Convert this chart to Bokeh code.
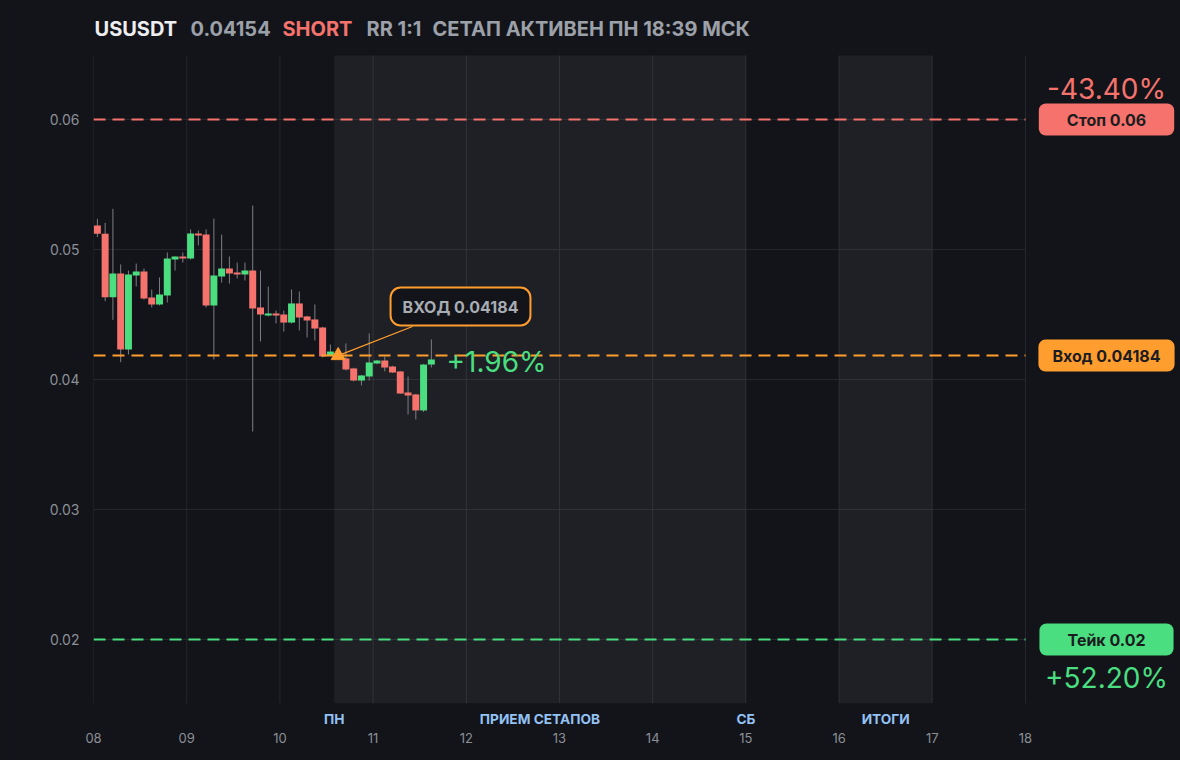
import numpy as np
from bokeh.plotting import figure
from bokeh.models import (Label, FixedTicker, Range1d, ColumnDataSource, GlobalInlineStyleSheet,
                          LinearAxis)
from bokeh.embed import file_html
from bokeh.resources import INLINE

# ---------------- data ----------------
symbol = "USUSDT"
last_price_text = "0.04154"
side_text = "SHORT"
rr_text = "RR 1:1"
status_text = "СЕТАП АКТИВЕН ПН 18:39 МСК"

start_day = 8.0
candle_hours = 2

opens = [0.05185, 0.05121, 0.04633, 0.04815, 0.04231, 0.04800, 0.04831, 0.04631, 0.04577, 0.04646,
         0.04923, 0.04946, 0.04931, 0.05123, 0.05115, 0.04569, 0.04792, 0.04854, 0.04823, 0.04808,
         0.04838, 0.04554, 0.04492, 0.04508, 0.04500, 0.04438, 0.04585, 0.04485, 0.04462, 0.04400,
         0.04185, 0.04200, 0.04162, 0.04085, 0.03992, 0.04023, 0.04123, 0.04146, 0.04100, 0.04062,
         0.03900, 0.03885, 0.03762, 0.04115]
highs = [0.05236, 0.05205, 0.05313, 0.04885, 0.04838, 0.04892, 0.04854, 0.04692, 0.04785, 0.04977,
         0.04946, 0.04977, 0.05154, 0.05146, 0.05154, 0.05238, 0.05115, 0.04946, 0.04900, 0.04900,
         0.05338, 0.04838, 0.04715, 0.04531, 0.04531, 0.04692, 0.04677, 0.04490, 0.04577, 0.04405,
         0.04269, 0.04240, 0.04277, 0.04090, 0.04035, 0.04354, 0.04150, 0.04177, 0.04105, 0.04066,
         0.04023, 0.03890, 0.04120, 0.04308]
lows = [0.05095, 0.04602, 0.04459, 0.04133, 0.04192, 0.04715, 0.04615, 0.04554, 0.04570, 0.04592,
        0.04838, 0.04900, 0.04923, 0.05031, 0.04554, 0.04154, 0.04746, 0.04738, 0.04777, 0.04762,
        0.03600, 0.04292, 0.04485, 0.04431, 0.04369, 0.04430, 0.04377, 0.04323, 0.04300, 0.04170,
        0.04180, 0.04160, 0.04070, 0.03985, 0.03954, 0.03992, 0.04118, 0.04062, 0.04050, 0.03890,
        0.03731, 0.03692, 0.03750, 0.04092]
closes = [0.05121, 0.04633, 0.04815, 0.04231, 0.04808, 0.04831, 0.04623, 0.04577, 0.04654, 0.04931,
          0.04946, 0.04931, 0.05123, 0.05108, 0.04569, 0.04800, 0.04854, 0.04815, 0.04808, 0.04838,
          0.04546, 0.04500, 0.04508, 0.04492, 0.04438, 0.04585, 0.04477, 0.04454, 0.04392, 0.04177,
          0.04215, 0.04185, 0.04077, 0.03992, 0.04031, 0.04131, 0.04146, 0.04092, 0.04054, 0.03892,
          0.03877, 0.03762, 0.04115, 0.04154]

entry_index = 31
entry_price = 0.04184
stop_price = 0.06
take_price = 0.02
entry_text = "ВХОД 0.04184"
stop_box_text = "Стоп 0.06"
entry_box_text = "Вход 0.04184"
take_box_text = "Тейк 0.02"
stop_pct = "-43.40%"
take_pct = "+52.20%"
pnl_pct = "+1.96%"

x_ticks = [8, 9, 10, 11, 12, 13, 14, 15, 16, 17, 18]
x_tick_labels = ["08", "09", "10", "11", "12", "13", "14", "15", "16", "17", "18"]
y_ticks = [0.02, 0.03, 0.04, 0.05, 0.06]
y_tick_labels = ["0.02", "0.03", "0.04", "0.05", "0.06"]

session_starts = [10.583, 16.0]
session_ends = [15.0, 17.0]
session_label_pos = [10.583, 12.79, 15.0, 16.5]
session_labels = ["ПН", "ПРИЕМ СЕТАПОВ", "СБ", "ИТОГИ"]

# ---------------- style ----------------
BG = "#131419"
RED = "#f6736d"
GREEN = "#4ade80"
ORANGE = "#ff9d2e"
GRID = "#26272c"
AXIS_TXT = "#8b8f97"
TITLE_GREY = "#9ca0a8"
BLUE = "#93c2f5"
WICK = "#7c7e84"
FONT = "Inter"

# chart area (page px): x 93..1025 <-> days 8..18 ; y 55..703 <-> price
CH_L, CH_R, CH_T, CH_B = 93, 1025, 55, 703
PX_PER_DAY = (CH_R - CH_L) / 10.0
PX_PER_PRICE = 13000.0
W, H = 1180, 760


def dx(px):
    return 8.0 + (px - CH_L) / PX_PER_DAY


def dy(py):
    return 0.06 - (py - 119) / PX_PER_PRICE


XA, XB = 8.0, 18.0
YA, YB = dy(CH_B), dy(CH_T)

p = figure(width=W, height=H, frame_width=W - CH_L, frame_height=CH_B,
           x_range=Range1d(dx(CH_L), dx(W)), y_range=Range1d(dy(CH_B), dy(0)),
           output_backend="svg", toolbar_location=None,
           min_border_left=CH_L, min_border_right=0, min_border_top=0, min_border_bottom=H - CH_B,
           background_fill_color=BG, border_fill_color=BG, outline_line_color=None)
p.stylesheets = [GlobalInlineStyleSheet(css="html, body { background: #131419; margin: 0; }")]
p.xgrid.visible = False
p.ygrid.visible = False

# session axis (closest to chart) and day axis
p.xaxis.ticker = FixedTicker(ticks=session_label_pos)
p.xaxis.major_label_overrides = {t: l for t, l in zip(session_label_pos, session_labels)}
day_axis = LinearAxis(ticker=FixedTicker(ticks=x_ticks),
                      major_label_overrides={t: l for t, l in zip(x_ticks, x_tick_labels)})
p.add_layout(day_axis, "below")
p.yaxis.ticker = FixedTicker(ticks=y_ticks)
p.yaxis.major_label_overrides = {t: l for t, l in zip(y_ticks, y_tick_labels)}
for ax in (p.xaxis[0], day_axis, p.yaxis[0]):
    ax.axis_line_color = None
    ax.major_tick_line_color = None
    ax.minor_tick_line_color = None
    ax.major_label_text_color = AXIS_TXT
    ax.major_label_text_font = FONT
    ax.major_label_text_font_size = "13px"
p.yaxis.major_label_text_font_size = "14px"
p.yaxis.major_label_standoff = 8
p.xaxis[0].major_label_text_color = BLUE
p.xaxis[0].major_label_text_font_style = "bold"
p.xaxis[0].major_label_text_font_size = "13.7px"
p.xaxis[0].major_label_standoff = 1
day_axis.major_label_standoff = -3

# grid lines (chart area only)
p.segment(x0=x_ticks, y0=YA, x1=x_ticks, y1=YB, line_color=GRID, line_width=1)
p.segment(x0=XA, y0=y_ticks, x1=XB, y1=y_ticks, line_color=GRID, line_width=1)

# session shading
p.quad(left=session_starts, right=session_ends, bottom=YA, top=YB,
       fill_color="#ffffff", fill_alpha=0.055, line_color=None)

# candles
n = len(opens)
times = start_day + (np.arange(n) + 0.5) * candle_hours / 24.0
o = np.array(opens); c = np.array(closes)
src = ColumnDataSource(dict(
    t=times, o=o, h=highs, l=lows, c=c,
    top=np.maximum(o, c), bot=np.minimum(o, c),
    col=[GREEN if cc >= oo else RED for oo, cc in zip(o, c)]))
p.segment(x0="t", y0="l", x1="t", y1="h", source=src, line_color=WICK, line_width=1)
p.vbar(x="t", width=candle_hours / 24.0 * 0.9, top="top", bottom="bot", source=src,
       fill_color="col", line_color=None)

# level lines
levels = [stop_price, entry_price, take_price]
level_colors = [RED, ORANGE, GREEN]
p.segment(x0=XA, y0=levels, x1=XB, y1=levels, line_color=level_colors, line_width=2,
          line_dash="12 7")

# entry marker and callout
ex = times[entry_index]
call_x, call_y = dx(412), dy(326)
p.segment(x0=[ex], y0=[entry_price], x1=[call_x], y1=[call_y], line_color=ORANGE, line_width=1.3)
p.scatter(x=[ex], y=[entry_price], marker="triangle", size=14, fill_color=ORANGE, line_color=ORANGE)
p.add_layout(Label(x=dx(460), y=dy(306), text=entry_text, text_align="center", text_baseline="middle",
                   text_font=FONT, text_font_size="16px", text_font_style="bold", text_color="#a8acb3",
                   background_fill_color=BG, border_line_color=ORANGE, border_line_width=2,
                   padding=(12, 9), border_radius=10))
p.add_layout(Label(x=dx(446), y=dy(361), text=pnl_pct, text_align="left", text_baseline="middle",
                   text_font=FONT, text_font_size="28px", text_color=GREEN))

# right side boxes
RX = dx(1106)
box_texts = [stop_box_text, entry_box_text, take_box_text]
for lvl, txt, col, padx in zip(levels, box_texts, level_colors, (28, 14, 28)):
    p.add_layout(Label(x=RX, y=lvl, text=txt, text_align="center", text_baseline="middle",
                       text_font=FONT, text_font_size="16px", text_font_style="bold", text_color="#1b1c20",
                       background_fill_color=col, padding=(padx, 6), border_radius=7))
p.add_layout(Label(x=RX, y=dy(88), text=stop_pct, text_align="center", text_baseline="middle",
                   text_font=FONT, text_font_size="28px", text_color=RED))
p.add_layout(Label(x=RX, y=dy(677), text=take_pct, text_align="center", text_baseline="middle",
                   text_font=FONT, text_font_size="28px", text_color=GREEN))

# title row
for px, txt, col in ((94, symbol, "#eeeef0"), (190, last_price_text, TITLE_GREY), (282, side_text, RED),
                     (366, rr_text, TITLE_GREY), (432, status_text, TITLE_GREY)):
    p.add_layout(Label(x=dx(px), y=dy(28), text=txt, text_align="left", text_baseline="middle",
                       text_font=FONT, text_font_size="20px", text_font_style="bold", text_color=col))

open("out.html", "w").write(file_html(p, INLINE))
